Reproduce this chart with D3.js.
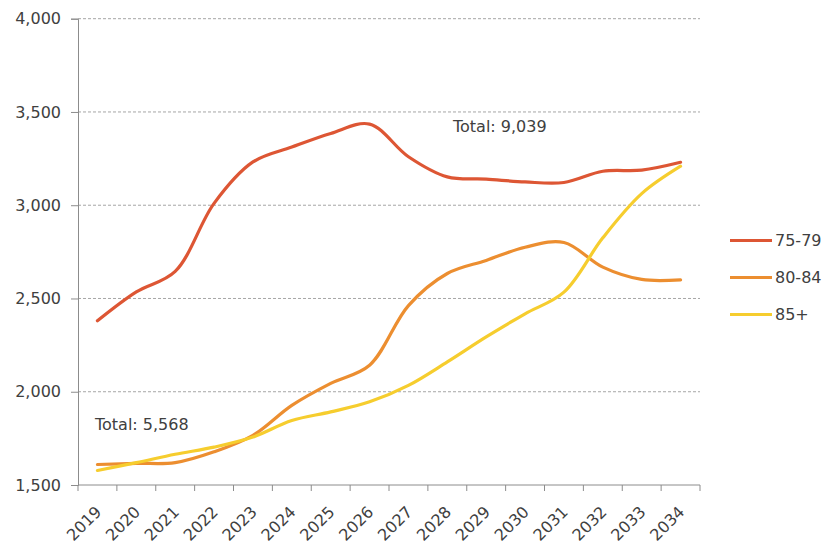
<!DOCTYPE html>
<html>
<head>
<meta charset="utf-8">
<script src="https://cdn.jsdelivr.net/npm/d3@7"></script>
<style>
  html, body { margin: 0; padding: 0; background: #fff; }
  svg { display: block; font-family: "DejaVu Sans", Verdana, sans-serif; }
</style>
</head>
<body>
<svg id="chart" width="824" height="545"></svg>
<script>
// Population aged 75+ by age band, 2019–2034
const years = ["2019","2020","2021","2022","2023","2024","2025","2026","2027","2028","2029","2030","2031","2032","2033","2034"];
const age75to79 = [2380, 2535, 2645, 3010, 3232, 3312, 3385, 3435, 3260, 3152, 3140, 3125, 3122, 3182, 3188, 3230];
const age80to84 = [1610, 1616, 1620, 1678, 1766, 1927, 2045, 2142, 2462, 2634, 2704, 2775, 2800, 2668, 2602, 2600];
const age85plus = [1578, 1620, 1665, 1703, 1757, 1846, 1892, 1946, 2034, 2160, 2294, 2418, 2534, 2825, 3062, 3209];
const seriesNames = ["75-79", "80-84", "85+"];
const seriesColors = ["#DD5634", "#EC8E30", "#F6CD2E"];
const yTicks = [1500, 2000, 2500, 3000, 3500, 4000];

const series = [age75to79, age80to84, age85plus].map((vals, i) => ({
  name: seriesNames[i], color: seriesColors[i], values: vals
}));

const svg = d3.select("#chart");
const plotLeft = 78, plotRight = 700, plotTop = 18.7, plotBottom = 485;

const x = d3.scaleBand().domain(years).range([plotLeft, plotRight]);
const y = d3.scaleLinear().domain([1500, 4000]).range([plotBottom, plotTop]);
const fmt = d3.format(",");

// Horizontal dashed gridlines
svg.append("g").selectAll("line")
  .data(yTicks.filter(t => t > 1500))
  .join("line")
  .attr("x1", plotLeft).attr("x2", plotRight)
  .attr("y1", d => y(d)).attr("y2", d => y(d))
  .attr("stroke", "#a6a6a6").attr("stroke-width", 1)
  .attr("stroke-dasharray", "3,2");

// Y axis
const yAxis = svg.append("g")
  .attr("transform", `translate(${plotLeft},0)`)
  .call(d3.axisLeft(y).tickValues(yTicks).tickFormat(fmt).tickSize(7).tickPadding(10));
yAxis.select(".domain").attr("stroke", "#8c8c8c");
yAxis.selectAll(".tick line").attr("stroke", "#8c8c8c");
yAxis.selectAll("text").attr("fill", "#404040").style("font-size", "16px")
  .style("font-family", "DejaVu Sans, Verdana, sans-serif");

// X axis: tick marks at category boundaries, labels at category centres
const xg = svg.append("g");
xg.append("line").attr("x1", plotLeft).attr("x2", plotRight).attr("y1", plotBottom).attr("y2", plotBottom)
  .attr("stroke", "#8c8c8c");
const bounds = years.map(d => x(d)).concat([plotRight]);
xg.selectAll("line.tk").data(bounds).join("line").attr("class", "tk")
  .attr("x1", d => d).attr("x2", d => d).attr("y1", plotBottom).attr("y2", plotBottom + 6)
  .attr("stroke", "#8c8c8c");
xg.selectAll("text").data(years).join("text")
  .attr("transform", d => `translate(${x(d) + x.bandwidth() / 2 + 1},${plotBottom + 24}) rotate(-45)`)
  .attr("text-anchor", "end")
  .attr("dy", "0.35em")
  .attr("fill", "#404040")
  .style("font-size", "16px")
  .text(d => d);

// Smoothed lines
const line = d3.line()
  .x((d, i) => x(years[i]) + x.bandwidth() / 2)
  .y(d => y(d))
  .curve(d3.curveCatmullRom.alpha(0.5));

svg.append("g").selectAll("path")
  .data(series)
  .join("path")
  .attr("d", d => line(d.values))
  .attr("fill", "none")
  .attr("stroke", d => d.color)
  .attr("stroke-width", 3.2)
  .attr("stroke-linecap", "round")
  .attr("stroke-linejoin", "round");

// Total annotations for first and last years
const total = i => d3.sum(series, s => s.values[i]);
svg.append("text").attr("x", 95).attr("y", 430)
  .attr("fill", "#404040").style("font-size", "16px")
  .text("Total: " + fmt(total(0)));
svg.append("text").attr("x", 453).attr("y", 132)
  .attr("fill", "#404040").style("font-size", "16px")
  .text("Total: " + fmt(total(years.length - 1)));

// Legend
const legend = svg.append("g").selectAll("g").data(series).join("g")
  .attr("transform", (d, i) => `translate(730,${240.5 + i * 37})`);
legend.append("line").attr("x1", 0).attr("x2", 42).attr("y1", 0).attr("y2", 0)
  .attr("stroke", d => d.color).attr("stroke-width", 3.2);
legend.append("text").attr("x", 45).attr("dy", "0.35em")
  .attr("fill", "#404040").style("font-size", "16px")
  .text(d => d.name);
</script>
</body>
</html>
